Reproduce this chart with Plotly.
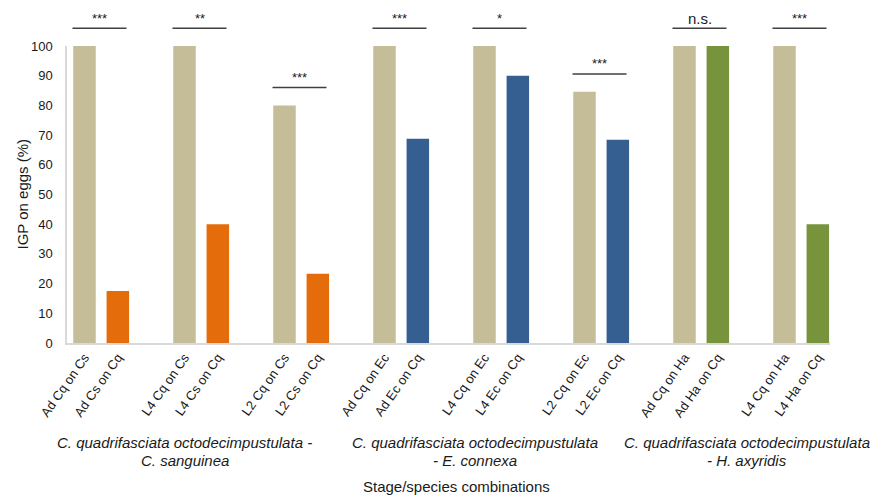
import plotly.graph_objects as go

# Stage/species pairs: first bar = C. quadrifasciata attacking, second = partner attacking
first_labels = ["Ad Cq on Cs", "L4 Cq on Cs", "L2 Cq on Cs",
                "Ad Cq on Ec", "L4 Cq on Ec", "L2 Cq on Ec",
                "Ad Cq on Ha", "L4 Cq on Ha"]
second_labels = ["Ad Cs on Cq", "L4 Cs on Cq", "L2 Cs on Cq",
                 "Ad Ec on Cq", "L4 Ec on Cq", "L2 Ec on Cq",
                 "Ad Ha on Cq", "L4 Ha on Cq"]
cq_igp = [100, 100, 80, 100, 100, 84.6, 100, 100]
partner_igp = [17.5, 40, 23.3, 68.8, 90, 68.4, 100, 40]
partner_species = ["Cs", "Cs", "Cs", "Ec", "Ec", "Ec", "Ha", "Ha"]
significance = ["***", "**", "***", "***", "*", "***", "n.s.", "***"]

group_lines = [
    ("C. quadrifasciata octodecimpustulata -", "C. sanguinea"),
    ("C. quadrifasciata octodecimpustulata", "- E. connexa"),
    ("C. quadrifasciata octodecimpustulata", "- H. axyridis"),
]

CQ_COLOR = "#C4BD97"
SPECIES_COLOR = {"Cs": "#E46C0A", "Ec": "#365F91", "Ha": "#77933C"}
TEXT = "#1a1a1a"
AXIS = "#D9D9D9"

# each pair takes two slots, followed by one empty slot
x_first = [3 * i for i in range(len(first_labels))]
x_second = [3 * i + 1 for i in range(len(second_labels))]
BAR_W = 0.675

fig = go.Figure()
fig.add_trace(go.Bar(x=x_first, y=cq_igp, width=BAR_W,
                     marker=dict(color=CQ_COLOR, line=dict(width=0)),
                     showlegend=False))
fig.add_trace(go.Bar(x=x_second, y=partner_igp, width=BAR_W,
                     marker=dict(color=[SPECIES_COLOR[s] for s in partner_species],
                                 line=dict(width=0)),
                     showlegend=False))

tickvals, ticktext = [], []
for a, b, la, lb in zip(x_first, x_second, first_labels, second_labels):
    tickvals += [a, b]
    ticktext += [la, lb]

# significance brackets above each pair (paper coords so they can sit above 100%)
Y_MAX = 100.0
shapes, annotations = [], []
for xa, va, vb, sig in zip(x_first, cq_igp, partner_igp, significance):
    level = (max(va, vb) + 6) / Y_MAX
    shapes.append(dict(type="line", xref="x", yref="paper",
                       x0=xa - 0.36, x1=xa + 1.26, y0=level, y1=level,
                       line=dict(color="#404040", width=1.5)))
    is_ns = sig == "n.s."
    annotations.append(dict(xref="x", yref="paper", x=xa + 0.45, y=level,
                            yanchor="middle", xanchor="center", yshift=10,
                            text=sig, showarrow=False,
                            font=dict(size=15 if is_ns else 13, color=TEXT,
                                      family="Arial, Liberation Sans, sans-serif")))

PLOT_TOP, PLOT_BOTTOM = 46, 343
def py_to_paper(py):
    return (PLOT_BOTTOM - py) / (PLOT_BOTTOM - PLOT_TOP)

group_x = [3.0, 11.72, 19.88]
for gx, (l1, l2) in zip(group_x, group_lines):
    for text, py in ((l1, 442), (l2, 460)):
        annotations.append(dict(xref="x", yref="paper", x=gx, y=py_to_paper(py),
                                xanchor="center", yanchor="middle",
                                text="<i>%s</i>" % text, showarrow=False,
                                font=dict(size=15, color=TEXT,
                                          family="Arial, Liberation Sans, sans-serif")))

annotations.append(dict(xref="x", yref="paper", x=(456 - 84.5) / 33.33,
                        y=py_to_paper(486), xanchor="center", yanchor="middle",
                        text="Stage/species combinations", showarrow=False,
                        font=dict(size=15, color=TEXT,
                                  family="Arial, Liberation Sans, sans-serif")))
annotations.append(dict(xref="paper", yref="paper", x=-45 / 763, y=0.5,
                        xanchor="center", yanchor="middle", textangle=-90,
                        text="IGP on eggs (%)", showarrow=False,
                        font=dict(size=15, color=TEXT,
                                  family="Arial, Liberation Sans, sans-serif")))

fig.update_layout(
    width=882, height=495,
    margin=dict(l=67, r=52, t=PLOT_TOP, b=495 - PLOT_BOTTOM, autoexpand=False),
    paper_bgcolor="white", plot_bgcolor="white",
    font=dict(family="Arial, Liberation Sans, sans-serif", color=TEXT),
    barmode="overlay",
    shapes=shapes, annotations=annotations,
    xaxis=dict(range=[-0.525, 22.365], tickmode="array", tickvals=tickvals,
               ticktext=ticktext, tickangle=-55, tickfont=dict(size=13, color=TEXT),
               showline=True, linecolor=AXIS, linewidth=1.5, ticks="",
               showgrid=False, zeroline=False, automargin=False),
    yaxis=dict(range=[0, Y_MAX], tickmode="linear", tick0=0, dtick=10,
               tickfont=dict(size=13, color=TEXT), showline=True, linecolor=AXIS,
               linewidth=1.5, ticks="", ticklabelstandoff=10,
               showgrid=False, zeroline=False, automargin=False),
)

fig.write_html("out.html")
